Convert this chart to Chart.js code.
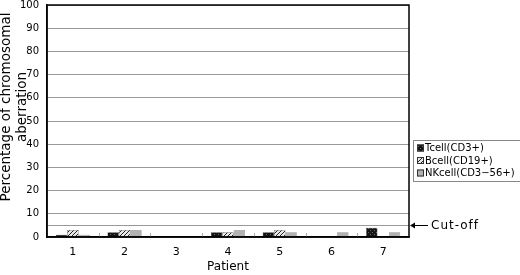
<!DOCTYPE html>
<html>
<head>
<meta charset="utf-8">
<script src="https://cdn.jsdelivr.net/npm/chart.js@4"></script>
<style>
  html, body { margin: 0; padding: 0; background: #fff; }
  #wrap { width: 520px; height: 275px; }
</style>
</head>
<body>
<div id="wrap"><canvas id="chart" width="520" height="275"></canvas></div>
<script>
const patients = ['1', '2', '3', '4', '5', '6', '7'];
const seriesNames = ['Tcell(CD3+)', 'Bcell(CD19+)', 'NKcell(CD3\u221256+)'];
const tcell = [1, 2, 0, 2, 2, 0, 4];
const bcell = [3, 3, 0, 2, 3, 0, 0];
const nkcell = [1, 3, 0, 3, 2, 2, 2];
const cutoff = 5;
const yTitle = ['Percentage of chromosomal', 'aberration'];

function makePattern(kind) {
    const c = document.createElement('canvas');
    c.width = 4; c.height = 4;
    const g = c.getContext('2d');
    if (kind === 'dots') {
        g.fillStyle = '#151515';
        g.fillRect(0, 0, 4, 4);
        g.fillStyle = '#6a6a6a';
        g.fillRect(0, 0, 1, 1);
        g.fillRect(2, 2, 1, 1);
    } else if (kind === 'hatch') {
        g.fillStyle = '#e8e8e8';
        g.fillRect(0, 0, 4, 4);
        g.fillStyle = '#222';
        g.fillRect(3, 0, 1, 1);
        g.fillRect(2, 1, 1, 1);
        g.fillRect(1, 2, 1, 1);
        g.fillRect(0, 3, 1, 1);
    } else {
        g.fillStyle = '#b2b2b2';
        g.fillRect(0, 0, 4, 4);
    }
    return g.createPattern(c, 'repeat');
}

const fills = [makePattern('dots'), makePattern('hatch'), makePattern('gray')];

const extras = {
    id: 'extras',
    beforeDatasetsDraw(chart) {
        const ctx = chart.ctx;
        const a = chart.chartArea;
        const yc = Math.round(chart.scales.y.getPixelForValue(cutoff)) + 0.5;
        ctx.save();
        ctx.strokeStyle = '#999';
        ctx.lineWidth = 1;
        ctx.beginPath();
        ctx.moveTo(a.left, yc);
        ctx.lineTo(a.right, yc);
        ctx.stroke();
        // small inside tick marks between categories
        const x = chart.scales.x;
        const step = (a.right - a.left) / patients.length;
        ctx.strokeStyle = '#aaa';
        for (let i = 1; i < patients.length; i++) {
            const px = Math.round(x.getPixelForValue(i) - step / 2) + 0.5;
            ctx.beginPath();
            ctx.moveTo(px, a.bottom);
            ctx.lineTo(px, a.bottom - 4);
            ctx.stroke();
        }
        ctx.restore();
    },
    afterDatasetsDraw(chart) {
        const ctx = chart.ctx;
        const a = chart.chartArea;
        const yc = Math.round(chart.scales.y.getPixelForValue(cutoff)) + 0.5;
        ctx.save();
        // frame
        ctx.strokeStyle = '#000';
        ctx.lineWidth = 1.5;
        ctx.strokeRect(a.left, a.top, a.right - a.left, a.bottom - a.top);
        // cut-off arrow
        ctx.lineWidth = 1;
        ctx.beginPath();
        ctx.moveTo(a.right + 4, yc);
        ctx.lineTo(a.right + 19, yc);
        ctx.stroke();
        ctx.fillStyle = '#000';
        ctx.beginPath();
        ctx.moveTo(a.right + 1, yc);
        ctx.lineTo(a.right + 6, yc - 3);
        ctx.lineTo(a.right + 6, yc + 3);
        ctx.closePath();
        ctx.fill();
        ctx.font = '12px "DejaVu Sans"';
        ctx.letterSpacing = '1px';
        ctx.textBaseline = 'middle';
        ctx.fillText('Cut-off', a.right + 22, yc);
        ctx.letterSpacing = '0px';
        // legend
        const lx = a.right + 4, ly = 140, lw = 107, lh = 41;
        ctx.strokeStyle = '#888';
        ctx.strokeRect(lx + 0.5, ly + 0.5, lw, lh);
        ctx.font = '10px "DejaVu Sans"';
        for (let i = 0; i < seriesNames.length; i++) {
            const ty = ly + 8 + i * 12.5;
            ctx.fillStyle = fills[i];
            ctx.fillRect(lx + 4, ty - 3.5, 7, 7);
            ctx.strokeStyle = '#333';
            ctx.strokeRect(lx + 4.5, ty - 3, 6, 6);
            ctx.fillStyle = '#000';
            ctx.fillText(seriesNames[i], lx + 12, ty + 0.5);
        }
        // y axis title
        ctx.textBaseline = 'alphabetic';
        ctx.translate(0, (a.top + a.bottom) / 2 - 14);
        ctx.rotate(-Math.PI / 2);
        ctx.textAlign = 'center';
        ctx.font = '13.5px "DejaVu Sans"';
        ctx.fillText(yTitle[0], 0, 10);
        ctx.fillText(yTitle[1], 0, 26);
        ctx.restore();
    }
};

new Chart(document.getElementById('chart'), {
    type: 'bar',
    data: {
        labels: patients,
        datasets: [
            { label: seriesNames[0], data: tcell, backgroundColor: fills[0], borderColor: '#222', borderWidth: 0.5 },
            { label: seriesNames[1], data: bcell, backgroundColor: fills[1], borderColor: '#222', borderWidth: 0.5 },
            { label: seriesNames[2], data: nkcell, backgroundColor: fills[2], borderColor: '#666', borderWidth: 0.5 }
        ]
    },
    options: {
        responsive: false,
        animation: false,
        layout: { padding: { top: 5, right: 111, left: 0, bottom: 0 } },
        datasets: { bar: { categoryPercentage: 0.66, barPercentage: 1.0 } },
        plugins: { legend: { display: false }, tooltip: { enabled: false } },
        scales: {
            x: {
                afterFit: (s) => { s.height = 38; },
                grid: { display: false },
                border: { color: '#000', width: 1.5 },
                ticks: { color: '#000', font: { family: 'DejaVu Sans', size: 11 }, padding: 1 },
                title: { display: true, text: 'Patient', color: '#000', font: { family: 'DejaVu Sans', size: 12 }, padding: { top: 0, bottom: 1 } }
            },
            y: {
                min: 0,
                max: 100,
                afterFit: (s) => { s.width = 47; s.paddingTop = 0; s.paddingBottom = 0; },
                ticks: { stepSize: 10, color: '#000', font: { family: 'DejaVu Sans', size: 10 }, padding: 8 },
                grid: { color: '#999', drawTicks: false },
                border: { color: '#000', width: 1.5 },
                title: { display: false }
            }
        }
    },
    plugins: [extras]
});
</script>
</body>
</html>
